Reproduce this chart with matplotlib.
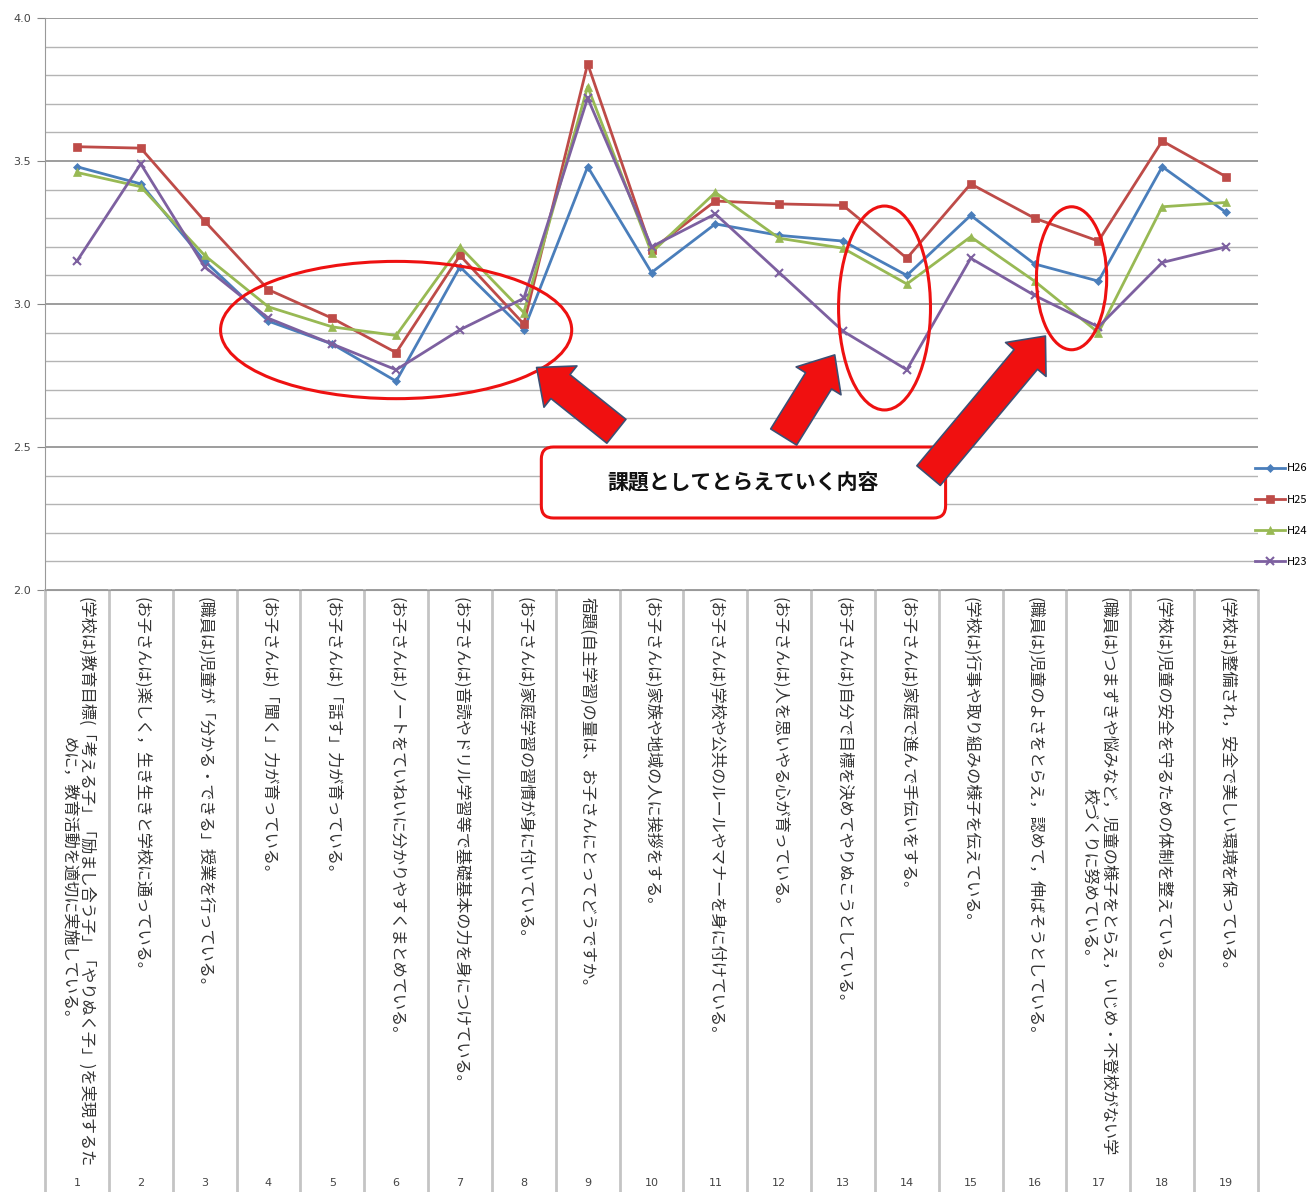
import numpy as np
import matplotlib
matplotlib.use("Agg")
import matplotlib.pyplot as plt
from matplotlib.patches import Ellipse, FancyArrowPatch, FancyBboxPatch

plt.rcParams['font.family'] = ['Noto Sans CJK JP', 'DejaVu Sans']

# --- data ---
item_no = list(range(1, 20))
item_labels = [
    "(学校は)教育目標(「考える子」「励まし合う子」「やりぬく子」)を実現するた\nめに，教育活動を適切に実施している。",
    "(お子さんは)楽しく，生き生きと学校に通っている。",
    "(職員は)児童が「分かる・できる」授業を行っている。",
    "(お子さんは)「聞く」力が育っている。",
    "(お子さんは)「話す」力が育っている。",
    "(お子さんは)ノートをていねいに分かりやすくまとめている。",
    "(お子さんは)音読やドリル学習等で基礎基本の力を身につけている。",
    "(お子さんは)家庭学習の習慣が身に付いている。",
    "宿題(自主学習)の量は、お子さんにとってどうですか。",
    "(お子さんは)家族や地域の人に挨拶をする。",
    "(お子さんは)学校や公共のルールやマナーを身に付けている。",
    "(お子さんは)人を思いやる心が育っている。",
    "(お子さんは)自分で目標を決めてやりぬこうとしている。",
    "(お子さんは)家庭で進んで手伝いをする。",
    "(学校は)行事や取り組みの様子を伝えている。",
    "(職員は)児童のよさをとらえ，認めて，伸ばそうとしている。",
    "(職員は)つまずきや悩みなど，児童の様子をとらえ，いじめ・不登校がない学\n校づくりに努めている。",
    "(学校は)児童の安全を守るための体制を整えている。",
    "(学校は)整備され，安全で美しい環境を保っている。",
]

h26 = [3.48, 3.42, 3.15, 2.94, 2.86, 2.73, 3.13, 2.91, 3.48, 3.11,
       3.28, 3.24, 3.22, 3.10, 3.31, 3.14, 3.08, 3.48, 3.32]
h25 = [3.55, 3.545, 3.29, 3.05, 2.95, 2.83, 3.17, 2.93, 3.84, 3.19,
       3.36, 3.35, 3.345, 3.16, 3.42, 3.30, 3.22, 3.57, 3.445]
h24 = [3.46, 3.41, 3.17, 2.99, 2.92, 2.89, 3.20, 2.97, 3.76, 3.18,
       3.39, 3.23, 3.195, 3.07, 3.235, 3.08, 2.90, 3.34, 3.355]
h23 = [3.15, 3.49, 3.13, 2.95, 2.86, 2.77, 2.91, 3.02, 3.72, 3.20,
       3.315, 3.11, 2.905, 2.77, 3.16, 3.03, 2.92, 3.145, 3.20]

series_names = ["H26", "H25", "H24", "H23"]
series_vals = [h26, h25, h24, h23]
series_colors = ["#4a7ebb", "#be4b48", "#98b954", "#7d60a0"]
series_markers = ["D", "s", "^", "x"]
series_msize = [4.5, 6, 6, 6]

# --- figure ---
W, H = 1314, 1192
fig = plt.figure(figsize=(W / 100, H / 100), dpi=100)
ax = fig.add_axes([45 / W, 1 - 590 / H, (1258 - 45) / W, (590 - 18) / H])

for name, vals, c, m, ms in zip(series_names, series_vals, series_colors,
                                series_markers, series_msize):
    ax.plot(item_no, vals, color=c, lw=2.0, marker=m, ms=ms,
            mew=1.5 if m == "x" else 0.5, label=name, zorder=3)

ax.set_xlim(0.5, 19.5)
ax.set_ylim(2.0, 4.0)
ax.set_yticks(np.arange(2.0, 4.01, 0.5))
ax.set_yticklabels([f"{v:.1f}" for v in np.arange(2.0, 4.01, 0.5)],
                   fontsize=8, color="#444444", family="DejaVu Sans")
ax.set_yticks(np.arange(2.0, 4.01, 0.1), minor=True)
ax.tick_params(axis="y", which="major", length=6, color="#888888", pad=4)
ax.tick_params(axis="y", which="minor", length=0)
ax.set_xticks([])
ax.grid(axis="y", which="minor", color="#b4b4b4", lw=1.0)
ax.grid(axis="y", which="major", color="#8c8c8c", lw=1.2)
ax.set_axisbelow(True)
for s in ["top", "right"]:
    ax.spines[s].set_visible(False)
ax.spines["left"].set_color("#999999")
ax.spines["bottom"].set_color("#999999")

# category table below the axis
tr = ax.get_xaxis_transform()
bottom = (590 - H) / (590 - 18)
for k in range(20):
    ax.plot([0.5 + k, 0.5 + k], [0, bottom], transform=tr, clip_on=False,
            color="#c4c4c4", lw=2.0, zorder=1)
for i, lab in zip(item_no, item_labels):
    ax.text(i, -0.012, lab, transform=tr, rotation=-90, ha="center", va="top",
            multialignment="center", fontsize=11.6, color="#333333",
            linespacing=1.05)
    ax.text(i, -1.037, str(i), transform=tr, ha="center", va="center",
            fontsize=8, color="#444444", family="DejaVu Sans")

# legend
ax.legend(loc="center left", bbox_to_anchor=(0.9975, 0.131), frameon=False,
          fontsize=8, handlelength=2.7, handletextpad=0.2, labelspacing=1.9,
          borderaxespad=0, borderpad=0)

# annotations: ellipses
ell_color = "#ee1111"
for cx, cy, ew, eh in [(6.0, 2.909, 5.5, 0.48), (13.65, 2.986, 1.44, 0.713),
                       (16.58, 3.09, 1.10, 0.50)]:
    ax.add_patch(Ellipse((cx, cy), ew, eh, fill=False, ec=ell_color, lw=2.2,
                         zorder=4))

# text box
x0 = (541 - 45) / 63.8 + 0.5
x1 = (945 - 45) / 63.8 + 0.5
y0 = 4 - (518 - 18) / 286
y1 = 4 - (447 - 18) / 286
ax.add_patch(FancyBboxPatch((x0, y0), x1 - x0, y1 - y0,
                            boxstyle="round,pad=0,rounding_size=0.19",
                            mutation_aspect=63.8 / 286, fc="white",
                            ec=ell_color, lw=2.2, zorder=5))
ax.text((x0 + x1) / 2, (y0 + y1) / 2, "課題としてとらえていく内容",
        ha="center", va="center", fontsize=15, fontweight="bold",
        color="#111111", zorder=6)

# block arrows
for tail, tip in [((9.45, 2.555), (8.2, 2.778)),
                  ((12.07, 2.535), (12.87, 2.822)),
                  ((14.34, 2.40), (16.17, 2.888))]:
    ax.add_patch(FancyArrowPatch(
        tail, tip, arrowstyle="simple,head_length=2.2,head_width=3.8,tail_width=2.2",
        mutation_scale=10, shrinkA=0, shrinkB=0, fc="#f01010", ec="#3c4f73",
        lw=1.2, zorder=7))

fig.savefig("out.png", dpi=100)
